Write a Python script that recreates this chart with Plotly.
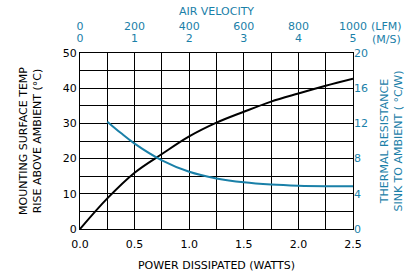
import plotly.graph_objects as go

# Temperature rise vs power
power_w = [0, 0.25, 0.5, 0.75, 1.0, 1.25, 1.5, 1.75, 2.0, 2.25, 2.5]
temp_rise_c = [0, 8.7, 16.0, 21.3, 26.3, 30.2, 33.3, 36.2, 38.5, 40.7, 42.7]

# Thermal resistance vs air velocity
air_lfm = [100, 150, 200, 300, 400, 500, 600, 700, 800, 900, 1000]
thermal_res = [12.2, 10.9, 9.7, 7.8, 6.5, 5.75, 5.3, 5.05, 4.92, 4.87, 4.87]

top_ticks_lfm = [0, 200, 400, 600, 800, 1000]
top_ticks_ms = [0, 1, 2, 3, 4, 5]

BLUE = "#1a80a8"
FONT = "DejaVu Sans"
L, R, T, B = 80, 57, 53, 47
W, H = 410, 276
PW, PH = W - L - R, H - T - B

fig = go.Figure()
fig.add_trace(go.Scatter(x=power_w, y=temp_rise_c, mode="lines",
                         line=dict(color="black", width=2, shape="spline"),
                         xaxis="x", yaxis="y", showlegend=False))
fig.add_trace(go.Scatter(x=air_lfm, y=thermal_res, mode="lines",
                         line=dict(color=BLUE, width=2, shape="spline"),
                         xaxis="x2", yaxis="y2", showlegend=False))

fig.update_layout(
    width=W, height=H,
    margin=dict(l=L, r=R, t=T, b=B, autoexpand=False),
    paper_bgcolor="white", plot_bgcolor="white",
    font=dict(family=FONT, size=11, color="black"),
    xaxis=dict(range=[0, 2.5], tickvals=[0, 0.5, 1.0, 1.5, 2.0, 2.5],
               ticktext=["0.0", "0.5", "1.0", "1.5", "2.0", "2.5"],
               showgrid=True, gridcolor="black", gridwidth=1,
               minor=dict(dtick=0.25, showgrid=True, gridcolor="black", gridwidth=1),
               showline=True, linecolor="black", linewidth=1, mirror=True,
               zeroline=False, ticks="", ticklabelstandoff=5,
               title=dict(text="POWER DISSIPATED (WATTS)", standoff=11,
                          font=dict(size=11))),
    yaxis=dict(range=[0, 50], dtick=10,
               showgrid=True, gridcolor="black", gridwidth=1,
               minor=dict(dtick=5, showgrid=True, gridcolor="black", gridwidth=1),
               showline=True, linecolor="black", linewidth=1, mirror=True,
               zeroline=False, ticks="",
               title=dict(text="MOUNTING SURFACE TEMP<br>RISE ABOVE AMBIENT (°C)",
                          standoff=18, font=dict(size=11))),
    # M/S row (lower line of top labels)
    xaxis2=dict(range=[0, 1000], overlaying="x", side="top", anchor="y",
                tickvals=top_ticks_lfm,
                ticktext=[str(v) for v in top_ticks_ms],
                tickfont=dict(color=BLUE, size=11), showgrid=False,
                zeroline=False, ticks="", ticklabelstandoff=8),
    # LFM row (upper line) with title
    xaxis3=dict(range=[0, 1000], overlaying="x", side="top", anchor="y",
                tickvals=top_ticks_lfm,
                ticktext=[str(v) for v in top_ticks_lfm],
                tickfont=dict(color=BLUE, size=11), showgrid=False,
                zeroline=False, ticks="", ticklabelstandoff=20,
                title=dict(text="AIR VELOCITY", font=dict(color=BLUE, size=11), standoff=1)),
    yaxis2=dict(range=[0, 20], dtick=4, overlaying="y", side="right", anchor="x",
                tickfont=dict(color=BLUE, size=11), showgrid=False,
                zeroline=False, ticks="",
                title=dict(text="THERMAL RESISTANCE<br>SINK TO AMBIENT ( °C/W)",
                           font=dict(color=BLUE, size=11), standoff=13)),
    annotations=[
        dict(text="(LFM)", x=(386 - L) / PW, y=(T - 26.5) / PH + 1, xref="paper", yref="paper",
             showarrow=False, xanchor="center", yanchor="middle",
             font=dict(color=BLUE, size=11)),
        dict(text="(M/S)", x=(386 - L) / PW, y=(T - 39.5) / PH + 1, xref="paper", yref="paper",
             showarrow=False, xanchor="center", yanchor="middle",
             font=dict(color=BLUE, size=11)),
    ],
)
# invisible trace to activate xaxis3
fig.add_trace(go.Scatter(x=[0], y=[0], xaxis="x3", yaxis="y", mode="markers",
                         marker=dict(opacity=0), showlegend=False, hoverinfo="skip"))

fig.write_html("out.html", config={"displayModeBar": False},
               post_script="document.body.style.margin='0';")
